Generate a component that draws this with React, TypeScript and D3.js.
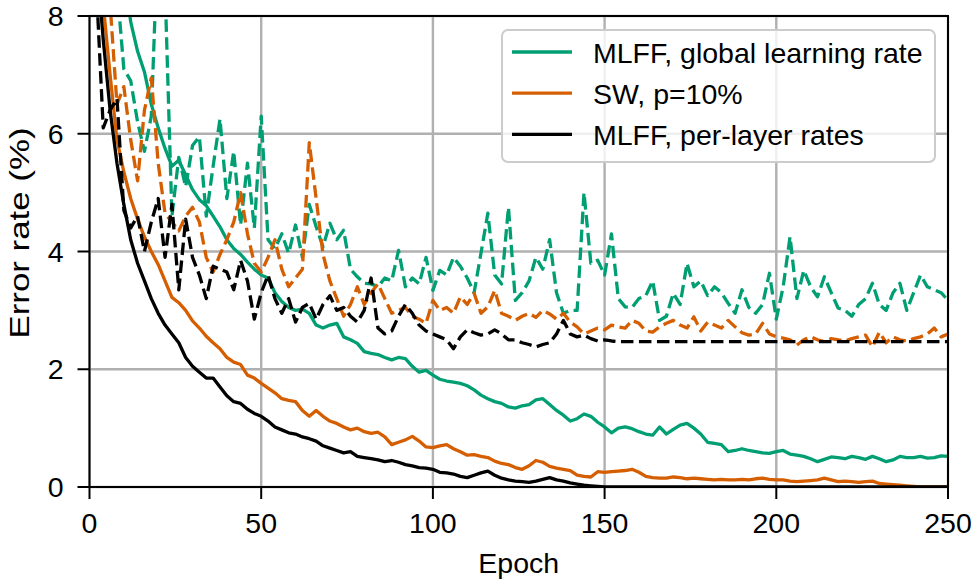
import * as d3 from 'd3';
import React from 'react';

// epochs sampled every 2
const epochs = d3.range(0, 251, 2);

const greenTrain = [
  14, 13, 12, 11, 10, 8.8, 7.9, 7.4, 7.05, 6.5,
  6.1, 5.75, 5.45, 5.55, 5.3, 5.05, 4.88, 4.78, 4.6, 4.42,
  4.2, 4.05, 3.95, 3.82, 3.7, 3.6, 3.55, 3.3, 3.15, 3.05,
  3.0, 3.02, 2.95, 2.75, 2.7, 2.75, 2.78, 2.55, 2.5, 2.44,
  2.3, 2.27, 2.25, 2.2, 2.16, 2.2, 2.18, 2.05, 1.95, 1.98,
  1.9, 1.83, 1.8, 1.78, 1.76, 1.72, 1.65, 1.56, 1.5, 1.45,
  1.42, 1.36, 1.34, 1.38, 1.4, 1.48, 1.5, 1.4, 1.3, 1.22,
  1.12, 1.16, 1.24, 1.2, 1.1, 1.02, 0.92, 1.0, 1.02, 0.99,
  0.94, 0.9, 0.88, 1.02, 0.9, 0.98, 1.05, 1.08, 1.0, 0.9,
  0.76, 0.74, 0.72, 0.6, 0.62, 0.65, 0.62, 0.6, 0.58, 0.57,
  0.6, 0.62, 0.56, 0.54, 0.52, 0.48, 0.43, 0.47, 0.51, 0.5,
  0.48, 0.52, 0.5, 0.47, 0.52, 0.48, 0.43, 0.46, 0.52, 0.5,
  0.5, 0.52, 0.49, 0.5, 0.53, 0.52,
];

const greenTest = [
  14, 13, 11, 9.5, 8.5, 7.1, 6.9, 6.2, 5.7, 6.3,
  9.5, 8.5, 4.6, 5.6, 5.1, 5.8, 5.95, 4.6, 5.45, 6.25,
  4.9, 5.7, 4.45, 5.5, 4.4, 6.3, 4.2, 4.05, 4.3, 3.97,
  4.45, 3.9, 4.8, 4.42, 4.08, 4.48, 4.2, 4.36, 3.7, 3.57,
  3.46, 3.45, 3.4, 3.55, 3.5, 4.02, 3.4, 3.55, 3.45, 3.9,
  3.34, 3.68, 3.6, 3.9, 3.75, 3.55, 3.3, 3.97, 4.65, 3.6,
  3.45, 4.75, 3.17, 3.3, 3.5, 3.9, 3.7, 4.2, 3.3, 2.95,
  3.0, 3.0, 5.0, 3.8, 3.85, 3.6, 4.3, 3.2, 3.06, 3.05,
  3.2, 3.25, 3.5, 2.83, 2.9, 3.29, 3.1, 3.8, 3.4, 3.5,
  3.25, 3.4, 3.3, 3.12, 2.95, 3.35, 3.05, 2.95, 3.1, 3.63,
  2.85, 3.4, 4.25, 3.2, 3.68, 3.4, 3.23, 3.57, 3.3, 3.04,
  3.0, 2.9, 3.1, 3.2, 3.46, 3.1, 3.0, 3.3, 3.46, 3.0,
  3.3, 3.6, 3.4, 3.35, 3.3, 3.17,
];

const orangeTrain = [
  12, 10, 8.2, 7.0, 5.9, 5.35, 4.9, 4.55, 4.25, 4.0,
  3.78, 3.5, 3.22, 3.13, 3.0, 2.82, 2.7, 2.56, 2.45, 2.35,
  2.2, 2.12, 2.08, 1.9, 1.85, 1.76, 1.68, 1.6, 1.5, 1.47,
  1.45, 1.3, 1.2, 1.3, 1.2, 1.12, 1.08, 1.02, 0.97, 1.0,
  0.94, 0.91, 0.93, 0.85, 0.72, 0.76, 0.8, 0.86, 0.78, 0.68,
  0.67, 0.7, 0.72, 0.65, 0.6, 0.54, 0.55, 0.52, 0.5, 0.44,
  0.4, 0.38, 0.33, 0.3, 0.36, 0.45, 0.42, 0.35, 0.32, 0.3,
  0.28, 0.2, 0.18, 0.17, 0.26, 0.25, 0.26, 0.27, 0.28, 0.3,
  0.25, 0.18, 0.16, 0.15, 0.15, 0.17, 0.16, 0.14, 0.15, 0.14,
  0.13, 0.12, 0.13, 0.12, 0.12, 0.13, 0.12, 0.14, 0.15, 0.13,
  0.12, 0.12, 0.1, 0.09, 0.1, 0.11, 0.12, 0.15, 0.12, 0.09,
  0.1, 0.09, 0.08, 0.09, 0.1, 0.06, 0.05, 0.04, 0.03, 0.02,
  0.01, 0, 0, 0, 0, 0,
];

const orangeTest = [
  12, 10, 8.8, 8.2, 6.5, 6.8, 5.9, 5.2, 6.4, 6.95,
  5.5, 4.65, 4.5, 4.35, 4.6, 4.75, 4.5, 3.9, 3.65, 3.95,
  4.2, 4.5, 5.0, 4.3, 3.8, 3.65, 3.9, 4.2, 3.7, 3.4,
  3.55, 3.7, 5.85, 4.9, 3.95, 3.5, 3.2, 2.9, 3.1, 3.4,
  3.1, 3.3, 3.45, 3.2, 2.95, 3.0, 3.05, 2.9, 2.85, 2.78,
  3.17, 3.0, 3.05, 2.95, 3.23, 3.1, 3.29, 2.95, 3.06, 3.34,
  2.95, 2.9, 2.83, 2.9, 2.95, 2.88, 3.0, 2.94, 2.85, 2.95,
  2.8, 2.72, 2.6, 2.65, 2.7, 2.67, 2.75, 2.72, 2.7, 2.83,
  2.78, 2.65, 2.63, 2.72, 2.78, 2.83, 2.75, 2.7, 2.89, 2.65,
  2.8, 2.75, 2.7, 2.83, 2.72, 2.62, 2.58, 2.6, 2.78, 2.6,
  2.55, 2.53, 2.5, 2.41, 2.5, 2.55, 2.5, 2.47, 2.52, 2.5,
  2.48, 2.52, 2.55, 2.58, 2.38, 2.63, 2.45, 2.55, 2.5, 2.48,
  2.52, 2.55, 2.6, 2.7, 2.55, 2.6,
];

const blackTrain = [
  12, 9.0, 7.6, 6.4, 5.5, 4.8, 4.2, 3.8, 3.5, 3.2,
  2.95, 2.75, 2.6, 2.45, 2.2, 2.05, 1.95, 1.85, 1.85, 1.7,
  1.55, 1.45, 1.42, 1.32, 1.25, 1.2, 1.12, 1.02, 0.97, 0.92,
  0.9, 0.85, 0.82, 0.78, 0.7, 0.66, 0.62, 0.58, 0.6, 0.52,
  0.5, 0.48, 0.46, 0.43, 0.45, 0.42, 0.38, 0.36, 0.33, 0.32,
  0.3, 0.25, 0.24, 0.22, 0.18, 0.16, 0.2, 0.24, 0.27, 0.2,
  0.15, 0.12, 0.1, 0.09, 0.08, 0.1, 0.13, 0.16, 0.12, 0.1,
  0.07, 0.05, 0.03, 0.02, 0.01, 0, 0, 0, 0, 0,
  0, 0, 0, 0, 0, 0, 0, 0, 0, 0,
  0, 0, 0, 0, 0, 0, 0, 0, 0, 0,
  0, 0, 0, 0, 0, 0, 0, 0, 0, 0,
  0, 0, 0, 0, 0, 0, 0, 0, 0, 0,
  0, 0, 0, 0, 0, 0,
];

const blackTest = [
  9.5, 8.5, 6.1, 6.4, 6.6, 4.7, 4.4, 4.6, 4.0, 4.5,
  4.9, 3.9, 4.8, 3.35, 4.55, 3.9, 3.6, 3.2, 3.75, 3.7,
  3.65, 3.35, 3.85, 3.5, 2.85, 3.3, 3.6, 3.2, 2.95, 3.2,
  2.8, 3.05, 3.12, 2.85, 3.1, 3.25, 3.0, 3.05, 2.9, 2.8,
  3.0, 3.55, 2.7, 2.6, 2.65, 2.9, 3.1, 2.95, 2.75, 2.65,
  2.6, 2.55, 2.5, 2.35, 2.55, 2.67, 2.62, 2.58, 2.6, 2.67,
  2.6, 2.5, 2.5, 2.45, 2.42, 2.38, 2.42, 2.45, 2.6, 2.83,
  2.6, 2.55, 2.58, 2.52, 2.48, 2.5, 2.48, 2.47, 2.47, 2.47,
  2.47, 2.47, 2.47, 2.47, 2.47, 2.47, 2.47, 2.47, 2.47, 2.47,
  2.47, 2.47, 2.47, 2.47, 2.47, 2.47, 2.47, 2.47, 2.47, 2.47,
  2.47, 2.47, 2.47, 2.47, 2.47, 2.47, 2.47, 2.47, 2.47, 2.47,
  2.47, 2.47, 2.47, 2.47, 2.47, 2.47, 2.47, 2.47, 2.47, 2.47,
  2.47, 2.47, 2.47, 2.47, 2.47, 2.47,
];

const xTicks = [0, 50, 100, 150, 200, 250];
const yTicks = [0, 2, 4, 6, 8];

const GREEN = '#009e73';
const ORANGE = '#d55e00';
const BLACK = '#000000';

const series = [
  { values: greenTrain, color: GREEN, dashed: false },
  { values: greenTest, color: GREEN, dashed: true },
  { values: orangeTrain, color: ORANGE, dashed: false },
  { values: orangeTest, color: ORANGE, dashed: true },
  { values: blackTrain, color: BLACK, dashed: false },
  { values: blackTest, color: BLACK, dashed: true },
];

const legendItems = [
  { label: 'MLFF, global learning rate', color: GREEN },
  { label: 'SW, p=10%', color: ORANGE },
  { label: 'MLFF, per-layer rates', color: BLACK },
];

export default function App() {
  const W = 976;
  const H = 585;
  const margin = { top: 16, right: 28, bottom: 98, left: 89.5 };
  const x = d3.scaleLinear().domain([0, 250]).range([margin.left, W - margin.right]);
  const y = d3.scaleLinear().domain([0, 8]).range([H - margin.bottom, margin.top]);
  const font = '"Liberation Sans", Arial, sans-serif';
  const fs = 28.5;

  const line = d3
    .line<number>()
    .x((_, i) => x(epochs[i]))
    .y(d => y(d));

  const [x0, x1] = x.range();
  const [y0, y1] = y.range();

  return (
    <svg width={W} height={H} style={{ position: 'absolute', left: 0, top: 0 }} fontFamily={font}>
      <defs>
        <clipPath id="plot">
          <rect x={x0} y={y1} width={x1 - x0} height={y0 - y1} />
        </clipPath>
      </defs>
      <rect x={0} y={0} width={W} height={H} fill="#fff" />

      {/* grid */}
      {xTicks.map(t => (
        <line key={'gx' + t} x1={x(t)} x2={x(t)} y1={y1} y2={y0} stroke="#b0b0b0" strokeWidth={2.4} />
      ))}
      {yTicks.map(t => (
        <line key={'gy' + t} x1={x0} x2={x1} y1={y(t)} y2={y(t)} stroke="#b0b0b0" strokeWidth={2.4} />
      ))}

      {/* curves */}
      <g clipPath="url(#plot)">
        {series.map((s, i) => (
          <path
            key={i}
            d={line(s.values) ?? ''}
            fill="none"
            stroke={s.color}
            strokeWidth={3.3}
            strokeDasharray={s.dashed ? '12.5 5.5' : undefined}
            strokeLinejoin="round"
          />
        ))}
      </g>

      {/* spines */}
      <rect x={x0} y={y1} width={x1 - x0} height={y0 - y1} fill="none" stroke="#000" strokeWidth={2} />

      {/* x ticks */}
      {xTicks.map(t => (
        <g key={'tx' + t}>
          <line x1={x(t)} x2={x(t)} y1={y0} y2={y0 + 12} stroke="#000" strokeWidth={2} />
          <text x={x(t)} y={533} fontSize={fs} textAnchor="middle" fill="#000">
            {t}
          </text>
        </g>
      ))}
      {/* y ticks */}
      {yTicks.map(t => (
        <g key={'ty' + t}>
          <line x1={x0 - 12} x2={x0} y1={y(t)} y2={y(t)} stroke="#000" strokeWidth={2} />
          <text x={x0 - 26} y={y(t) + 10} fontSize={fs} textAnchor="end" fill="#000">
            {t}
          </text>
        </g>
      ))}

      {/* axis labels */}
      <text x={(x0 + x1) / 2} y={573} fontSize={fs} textAnchor="middle" fill="#000">
        Epoch
      </text>
      <text
        transform="translate(28.5,233) rotate(-90)"
        fontSize={fs}
        textAnchor="middle"
        textLength={211}
        lengthAdjust="spacingAndGlyphs"
        fill="#000"
      >
        Error rate (%)
      </text>

      {/* legend */}
      <rect x={502} y={30} width={433} height={132} rx={6} fill="#fff" fillOpacity={0.8} stroke="#cccccc" strokeWidth={2} />
      {legendItems.map((item, i) => {
        const ly = 52 + i * 41.2;
        return (
          <g key={item.label}>
            <line x1={512} x2={572} y1={ly} y2={ly} stroke={item.color} strokeWidth={3.3} />
            <text x={593} y={ly + 11} fontSize={fs} fill="#000">
              {item.label}
            </text>
          </g>
        );
      })}
    </svg>
  );
}
